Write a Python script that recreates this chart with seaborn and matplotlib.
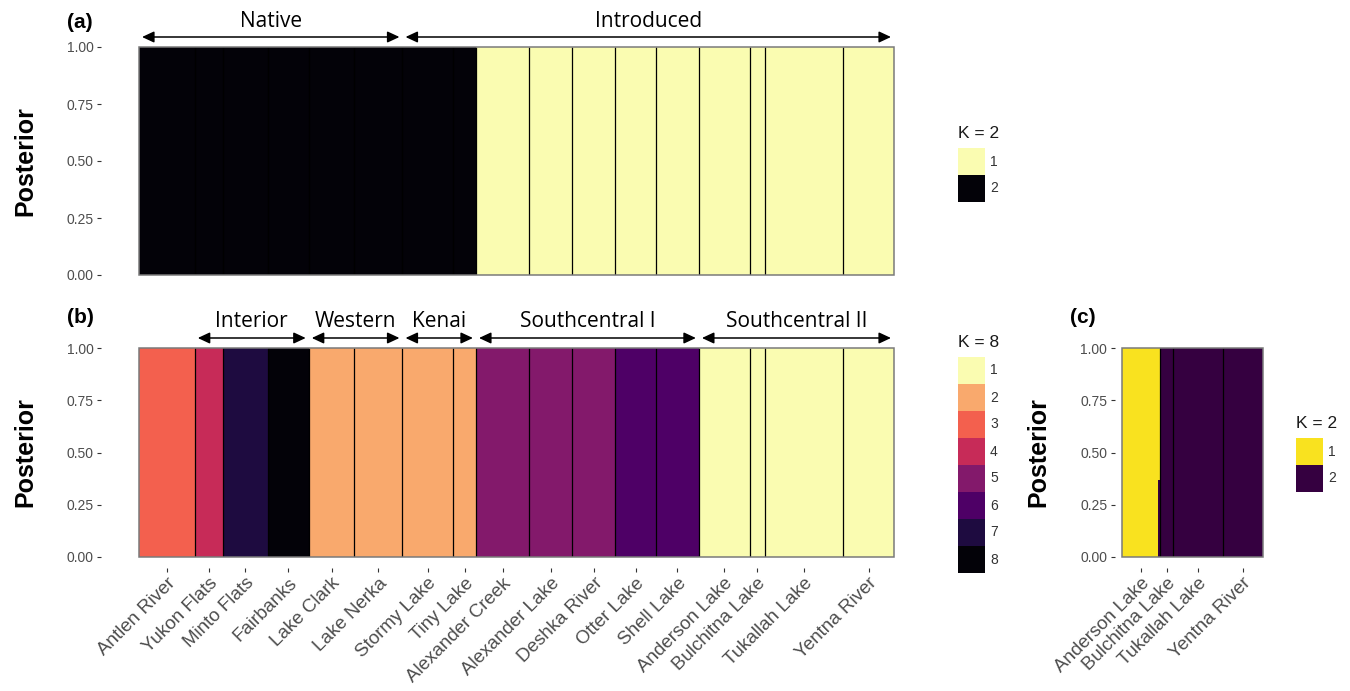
import numpy as np
import pandas as pd
import matplotlib
matplotlib.use("Agg")
import matplotlib.pyplot as plt
import matplotlib.transforms as mtransforms
from matplotlib.patches import Rectangle
import seaborn as sns

# ---------------------------------------------------------------------------
# Sampled populations (panels a and b), in plotting order
populations = ["Antlen River", "Yukon Flats", "Minto Flats", "Fairbanks",
               "Lake Clark", "Lake Nerka", "Stormy Lake", "Tiny Lake",
               "Alexander Creek", "Alexander Lake", "Deshka River", "Otter Lake",
               "Shell Lake", "Anderson Lake", "Bulchitna Lake", "Tukallah Lake",
               "Yentna River"]
sample_sizes = [22, 11, 18, 16, 18, 19, 20, 9, 21, 17, 17, 16, 17, 20, 6, 31, 20]
# Cluster each population is assigned to
cluster_k2 = [2, 2, 2, 2, 2, 2, 2, 2, 1, 1, 1, 1, 1, 1, 1, 1, 1]
cluster_k8 = [3, 4, 7, 8, 2, 2, 2, 2, 5, 5, 5, 6, 6, 1, 1, 1, 1]

# Southcentral II populations re-run on their own (panel c)
sub_populations = ["Anderson Lake", "Bulchitna Lake", "Tukallah Lake", "Yentna River"]
sub_sample_sizes = [17, 6, 22, 18]
sub_cluster_k2 = [1, 2, 2, 2]
# one admixed fish (last Anderson Lake individual): membership per cluster
sub_admixed = {"Anderson Lake": {"1": 0.63, "2": 0.37}}

# Groupings annotated above the bars
origin_names = ["Native", "Introduced"]
origin_spans = [("Antlen River", "Lake Nerka"), ("Stormy Lake", "Yentna River")]
region_names = ["Interior", "Western", "Kenai", "Southcentral I", "Southcentral II"]
region_spans = [("Yukon Flats", "Fairbanks"), ("Lake Clark", "Lake Nerka"),
                ("Stormy Lake", "Tiny Lake"), ("Alexander Creek", "Shell Lake"),
                ("Anderson Lake", "Yentna River")]

# Cluster colours
k2_colors = ["#FAFCB1", "#030208"]
k8_colors = ["#FAFCB1", "#F9A96D", "#F3604E", "#C72B58",
             "#83196B", "#4E0066", "#1E0B40", "#030208"]
sub_k2_colors = ["#F9E21F", "#350040"]

y_ticks = [0.0, 0.25, 0.5, 0.75, 1.0]
y_tick_labels = ["0.00", "0.25", "0.50", "0.75", "1.00"]

# ---------------------------------------------------------------------------
sns.set_theme(style="white")
plt.rcParams["font.family"] = ["Liberation Sans", "DejaVu Sans"]

W, H, DPI = 1350, 691, 100
fig = plt.figure(figsize=(W / DPI, H / DPI), dpi=DPI)
fig.patch.set_facecolor("white")

TICK_GREY = "#4D4D4D"
GROUP_FONT = ["Open Sans", "DejaVu Sans"]


def fx(px):
    return px / W


def fy(py):
    return 1 - py / H


def axes_px(left, top, right, bottom):
    return fig.add_axes([fx(left), fy(bottom), (right - left) / W, (bottom - top) / H])


def membership_table(pops, sizes, clusters, admixed=None):
    """One row per individual and cluster with its membership coefficient."""
    admixed = admixed or {}
    recs = []
    i = 0
    for pop, n, k in zip(pops, sizes, clusters):
        for j in range(n):
            if pop in admixed and j == n - 1:
                for cl, q in admixed[pop].items():
                    recs.append({"x": i + 0.5, "cluster": cl, "q": q})
            else:
                recs.append({"x": i + 0.5, "cluster": str(k), "q": 1.0})
            i += 1
    return pd.DataFrame(recs)


def structure_panel(ax, pops, sizes, clusters, colors, admixed=None,
                    show_names=True, name_size=13.5):
    sizes = np.asarray(sizes)
    n_total = int(sizes.sum())
    levels = [str(k) for k in range(1, len(colors) + 1)]
    df = membership_table(pops, sizes, clusters, admixed)
    sns.histplot(data=df, x="x", weights="q", hue="cluster", hue_order=levels,
                 palette=dict(zip(levels, colors)), binwidth=1,
                 binrange=(0, n_total),
                 multiple="stack", stat="count", element="bars", fill=True,
                 alpha=1, linewidth=0, edgecolor="none", antialiased=False,
                 legend=False, ax=ax)
    ax.set_xlim(-0.05 * n_total, 1.05 * n_total)
    ax.set_ylim(0, 1)

    edges = np.concatenate([[0], np.cumsum(sizes)])
    ax.vlines(edges[1:-1], 0, 1, colors="#000000", linewidth=0.9, zorder=4)
    ax.add_patch(Rectangle((0, 0), n_total, 1, fill=False, edgecolor="#7a7a7a",
                           linewidth=1.1, zorder=5, clip_on=False))

    for side in ["top", "right", "left"]:
        ax.spines[side].set_visible(False)
    ax.spines["bottom"].set_visible(False)
    ax.spines["bottom"].set_position(("outward", 7.9))

    ax.set_yticks(y_ticks)
    ax.set_yticklabels(y_tick_labels, fontsize=10, color=TICK_GREY)
    ax.tick_params(axis="y", direction="out", length=2.9, width=0.8,
                   color="#333333", pad=2.6, left=True)

    centers = edges[:-1] + sizes / 2
    if show_names:
        ax.set_xticks(centers)
        ax.set_xticklabels(pops, rotation=45, ha="right", va="top",
                           rotation_mode="anchor", fontsize=name_size,
                           color=TICK_GREY)
        ax.tick_params(axis="x", direction="out", length=2.9, width=0.8,
                       color="#333333", pad=2.0, bottom=True)
    else:
        ax.set_xticks([])
    ax.set_xlabel("")
    ax.set_ylabel("")
    ax.grid(False)
    return edges


def posterior_label(baseline_px, center_py):
    fig.text(fx(baseline_px), fy(center_py), "Posterior", rotation=90,
             rotation_mode="anchor", ha="center", va="baseline",
             fontsize=18, fontweight="bold", color="black")


def group_arrows(ax, pops, edges, names, spans, arrow_py, text_py, inset=1.2):
    blend = mtransforms.blended_transform_factory(ax.transData, fig.transFigure)
    for name, (first, last) in zip(names, spans):
        a = edges[pops.index(first)]
        b = edges[pops.index(last) + 1]
        ax.annotate("", xy=(b - inset, fy(arrow_py)), xytext=(a + inset, fy(arrow_py)),
                    xycoords=blend, textcoords=blend,
                    arrowprops=dict(arrowstyle="<|-|>,head_length=0.6,head_width=0.28",
                                    color="black", lw=1.1, mutation_scale=12,
                                    shrinkA=0, shrinkB=0))
        ax.text((a + b) / 2, fy(text_py), name, transform=blend, ha="center",
                va="baseline", fontsize=15, family=GROUP_FONT, color="black")


def legend_block(title, colors, x_px, title_py, top_py, box=27):
    fig.text(fx(x_px), fy(title_py), title, ha="left", va="baseline",
             fontsize=12.5, color="#1a1a1a")
    for i, c in enumerate(colors):
        top = top_py + i * box
        fig.patches.append(Rectangle((fx(x_px), fy(top + box)), box / W, box / H,
                                     transform=fig.transFigure, facecolor=c,
                                     edgecolor="none", figure=fig))
        fig.text(fx(x_px + box + 5), fy(top + box / 2), str(i + 1), ha="left",
                 va="center", fontsize=10, color="#333333")


# ---------------------------------------------------------------------------
# (a) K = 2, all populations
n_all = sum(sample_sizes)
unit = 755.0 / n_all
pad = 0.05 * n_all * unit
ax_a = axes_px(139 - pad, 47, 894 + pad, 275)
edges_all = structure_panel(ax_a, populations, sample_sizes, cluster_k2, k2_colors,
                            show_names=False)
group_arrows(ax_a, populations, edges_all, origin_names, origin_spans, 37, 27)
posterior_label(32, 161)
fig.text(fx(67), fy(28), "(a)", ha="left", va="baseline", fontsize=15,
         fontweight="bold", color="black")
legend_block("K = 2", k2_colors, 958, 138, 148)

# (b) K = 8, all populations
ax_b = axes_px(139 - pad, 348, 894 + pad, 557)
structure_panel(ax_b, populations, sample_sizes, cluster_k8, k8_colors)
group_arrows(ax_b, populations, edges_all, region_names, region_spans, 338, 327)
posterior_label(32, 452)
fig.text(fx(67), fy(323), "(b)", ha="left", va="baseline", fontsize=15,
         fontweight="bold", color="black")
legend_block("K = 8", k8_colors, 958, 347, 357)

# (c) K = 2, Southcentral II populations only
n_sub = sum(sub_sample_sizes)
pad_c = 0.05 * 140.7
ax_c = axes_px(1122 - pad_c, 348, 1262.7 + pad_c, 557)
structure_panel(ax_c, sub_populations, sub_sample_sizes, sub_cluster_k2,
                sub_k2_colors, admixed=sub_admixed)
posterior_label(1045, 452)
fig.text(fx(1070), fy(323), "(c)", ha="left", va="baseline", fontsize=15,
         fontweight="bold", color="black")
legend_block("K = 2", sub_k2_colors, 1296, 428, 438)

fig.savefig("out.png", dpi=DPI, facecolor="white")
